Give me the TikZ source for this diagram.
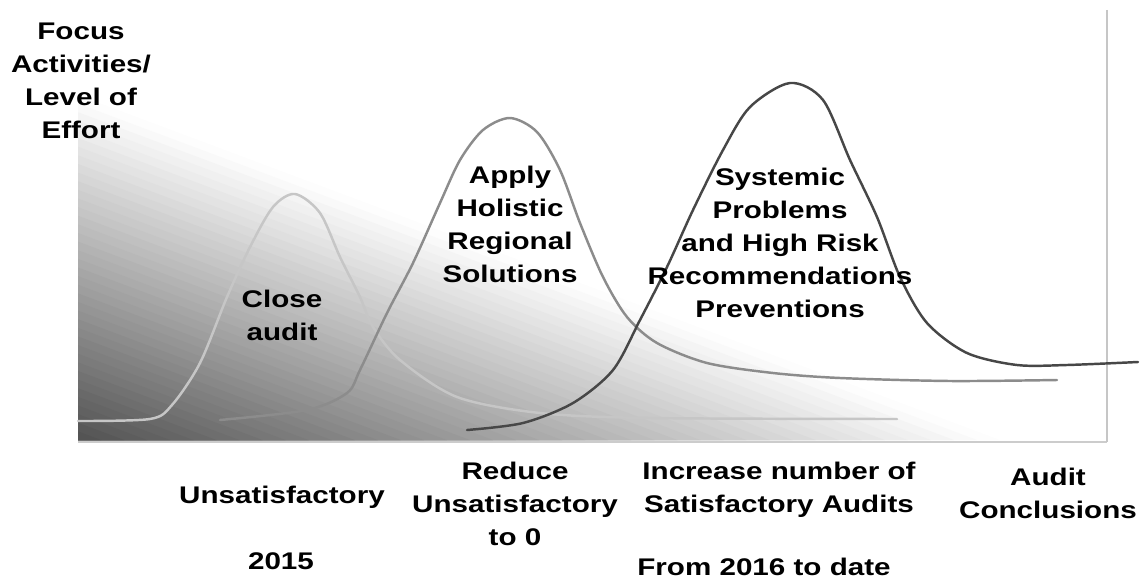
\documentclass[tikz,border=0pt]{standalone}
\usepackage{fontspec}
\setmainfont{Liberation Sans}[FakeStretch=1.23]
\tikzset{
  lbl/.style={font=\fontsize{13.7}{18.8}\selectfont\bfseries,align=center,inner sep=0pt,anchor=north},
  effort/.style={line width=1.4pt,line cap=round},
}

\begin{document}
\begin{tikzpicture}[x=0.02cm,y=-0.02cm]
		\useasboundingbox (0,0) rectangle (1145,581);
		% shaded wedge behind the curves
		\foreach \i in {40,39,...,1}{
			\pgfmathsetmacro{\f}{\i/40}
			\pgfmathsetmacro{\k}{68*(1-(\i-0.5)/40)}
			\fill[black!\k] (78,440) -- (78,{440-345*\f}) -- ({78+922*\f},440) -- cycle;
		}
		\draw[gray!40,line width=1.2pt] (78,442) -- (1107,442);
		\draw[gray!45,line width=1pt] (1107,10) -- (1107,442);
		% the three efforts
		\draw[effort,gray!45] plot[smooth,tension=0.5] coordinates {(78,421) (150,419) (172,405) (200,363) (227,297) (250,247) (273,207) (295,194) (320,213) (340,257) (360,297) (373,327) (400,360) (457,397) (540,413) (650,418) (897,419)};
		\draw[effort,black!45] plot[smooth,tension=0.5] coordinates {(220,420) (307,410) (347,393) (360,370) (387,313) (413,263) (440,203) (460,160) (483,130) (510,118) (537,132) (560,170) (580,223) (603,277) (627,317) (657,343) (707,363) (773,373) (840,378) (950,381) (1057,380)};
		\draw[effort,black!72] plot[smooth,tension=0.5] coordinates {(467,430) (523,423) (573,403) (613,370) (640,320) (667,267) (693,210) (723,150) (750,107) (790,83) (823,100) (850,160) (877,217) (900,277) (927,323) (967,353) (1017,365) (1067,365) (1138,362)};
		% labels
		\node[lbl] (ylabel) at (81,22.5) {Focus\\Activities/\\Level of\\Effort};
		\node[lbl] (close) at (282,289.5) {Close\\audit};
		\node[lbl] (apply) at (510,165.5) {Apply\\Holistic\\Regional\\Solutions};
		\node[lbl] (systemic) at (780,167.5) {Systemic\\Problems\\and High Risk\\Recommendations\\Preventions};
		\node[lbl] (unsat) at (282,485.5) {Unsatisfactory};
		\node[lbl] (year) at (281,552.5) {2015};
		\node[lbl] (reduce) at (515,461.5) {Reduce\\Unsatisfactory\\to 0};
		\node[lbl] (increase) at (779,461.5) {Increase number of\\Satisfactory Audits};
		\node[lbl] (fromyear) at (764,557.5) {From 2016 to date};
		\node[lbl] (conclusions) at (1048,467.5) {Audit\\Conclusions};
\end{tikzpicture}
\end{document}
